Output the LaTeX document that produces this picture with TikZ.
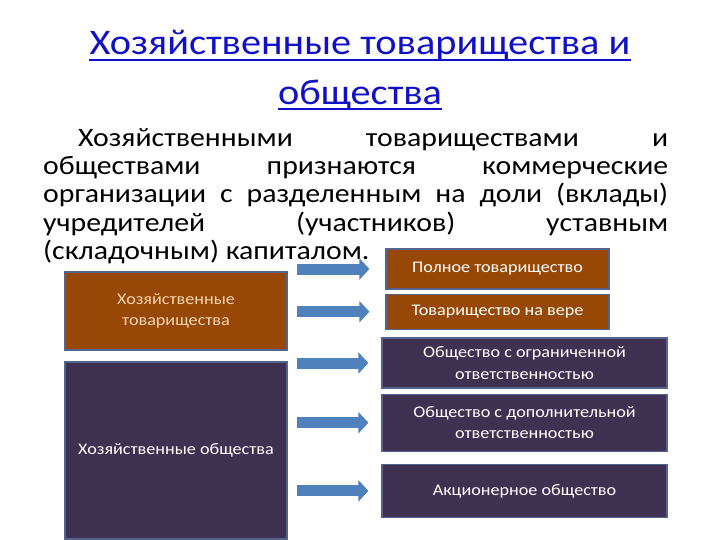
\documentclass[tikz,border=0pt]{standalone}
\usepackage{fontspec}
\setmainfont{Carlito}[FakeStretch=1.12]
\usetikzlibrary{arrows.meta,positioning}
\definecolor{titleblue}{RGB}{16,16,200}
\definecolor{partbrown}{RGB}{151,72,6}
\definecolor{corppurple}{RGB}{63,49,81}
\definecolor{edgeblue}{RGB}{84,100,142}
\definecolor{arrowblue}{RGB}{79,129,189}
\definecolor{peach}{RGB}{250,212,176}

\begin{document}
\begin{tikzpicture}[x=1pt,y=-1pt,
  heading/.style={font=\fontsize{36}{44}\selectfont,text=titleblue,inner sep=0pt,anchor=base},
  bodyline/.style={font=\fontsize{26.6}{28}\selectfont,inner sep=0pt,anchor=base west},
  kind/.style={draw=edgeblue,line width=1.2pt,align=center,inner sep=0pt,font=\fontsize{16.2}{21.5}\selectfont},
  partbox/.style={kind,fill=partbrown,text=white},
  corpbox/.style={kind,fill=corppurple,text=white},
  flow/.style={-{Triangle[width=21pt,length=10pt]},line width=11pt,draw=arrowblue,shorten <=9pt,shorten >=13pt}
]
\useasboundingbox (0,0) rectangle (720,540);

% title
\node[heading] (t1) at (360,55) {Хозяйственные товарищества и};
\node[heading] (t2) at (360,105) {общества};
\draw[titleblue,line width=1.6pt] ([yshift=-5pt]t1.base west) -- ([yshift=-5pt]t1.base east);
\draw[titleblue,line width=1.6pt] ([yshift=-4pt]t2.base west) -- ([yshift=-4pt]t2.base east);

% definition text
\node[bodyline] (b1) at (78,147) {\makebox[590pt][s]{Хозяйственными\hfill товариществами\hfill и}};
\node[bodyline] (b2) at (43,175) {\makebox[625pt][s]{обществами\hfill признаются\hfill коммерческие}};
\node[bodyline] (b3) at (43,203) {\makebox[625pt][s]{организации\hfill с\hfill разделенным\hfill на\hfill доли\hfill (вклады)}};
\node[bodyline] (b4) at (43,231) {\makebox[625pt][s]{учредителей\hfill (участников)\hfill уставным}};
\node[bodyline] (b5) at (43,259) {(складочным) капиталом.};

% left column
\node[partbox,text=peach,minimum width=222pt,minimum height=78pt] (ht) at (176,311) {Хозяйственные\\товарищества};
\node[corpbox,minimum width=222pt,minimum height=177pt] (ho) at (176,450.5) {Хозяйственные общества};

% right column
\node[partbox,minimum width=223pt,minimum height=40pt] (p1) at (497.5,269) {Полное товарищество};
\node[partbox,minimum width=223pt,minimum height=35pt,below=4pt of p1] (p2) {Товарищество на вере};
\node[corpbox,minimum width=285pt,minimum height=50pt] (o1) at (524.5,363) {Общество с ограниченной\\ответственностью};
\node[corpbox,minimum width=285pt,minimum height=57pt,below=5pt of o1] (o2) {Общество с дополнительной\\ответственностью};
\node[corpbox,minimum width=285pt,minimum height=53pt,below=12pt of o2] (o3) {Акционерное общество};

% arrows
\draw[flow,shorten >=16pt] (ht.east |- p1) -- (p1.west);
\draw[flow,shorten >=16pt] (ht.east |- p2) -- (p2.west);
\draw[flow] (ho.east |- o1) -- (o1.west);
\draw[flow] (ho.east |- o2) -- (o2.west);
\draw[flow] (ho.east |- o3) -- (o3.west);
\end{tikzpicture}
\end{document}
